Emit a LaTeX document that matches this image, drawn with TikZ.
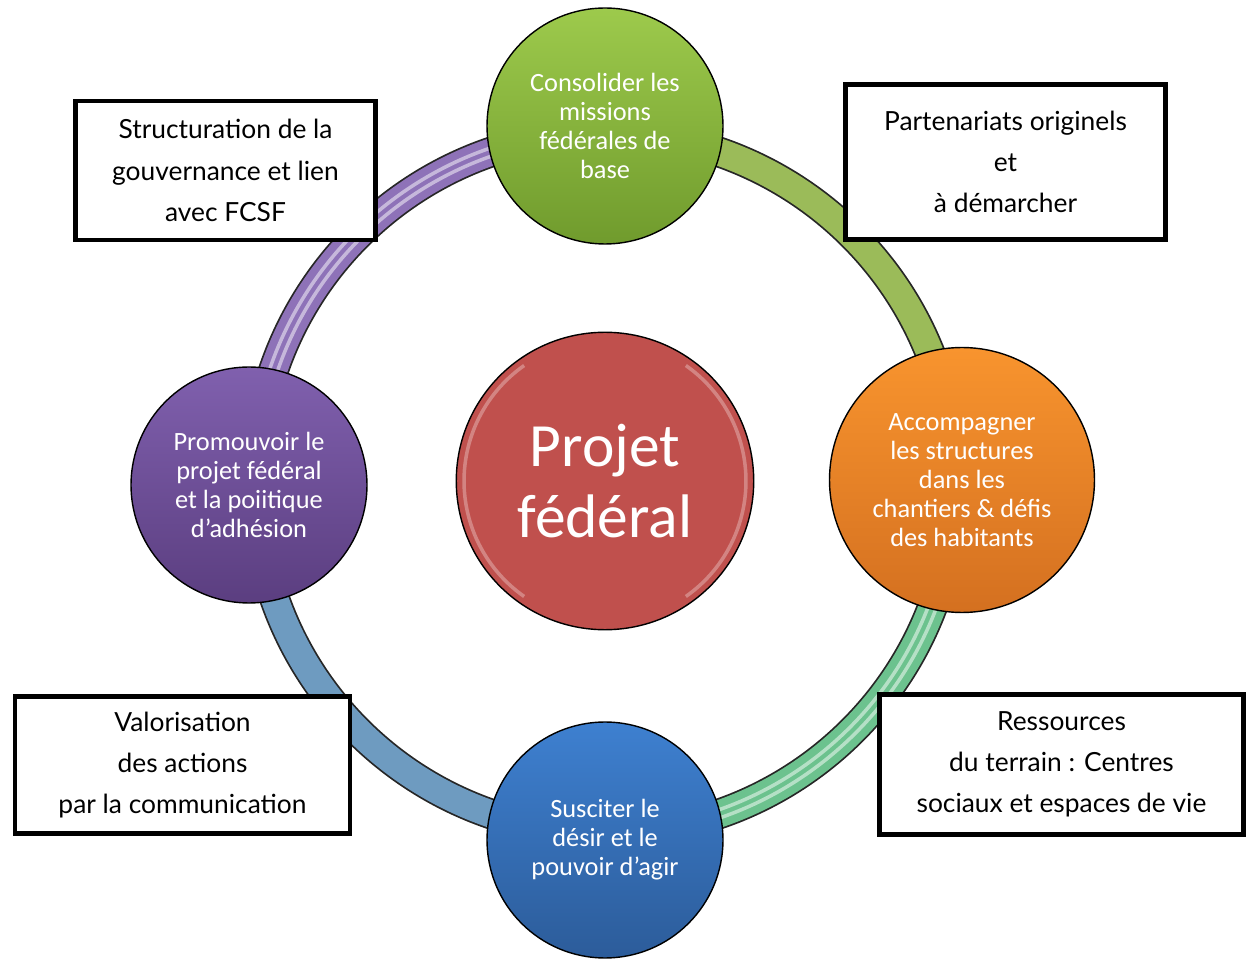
\documentclass[tikz,border=0pt]{standalone}
\usepackage{fontspec}
\setmainfont{Carlito}
\newfontfamily\handfont{Lato}
\usetikzlibrary{positioning,backgrounds}

\definecolor{ringpurple}{HTML}{8E72B8}
\definecolor{ringgreen}{HTML}{9BBB59}
\definecolor{ringsea}{HTML}{6CC28E}
\definecolor{ringblue}{HTML}{6E9BC0}
\definecolor{projred}{HTML}{C0504D}
\definecolor{greentop}{RGB}{157,202,76}
\definecolor{greenbot}{RGB}{112,155,45}
\definecolor{orangetop}{RGB}{248,148,46}
\definecolor{orangebot}{RGB}{212,112,32}
\definecolor{bluetop}{RGB}{62,128,208}
\definecolor{bluebot}{RGB}{44,92,154}
\definecolor{purpletop}{RGB}{128,96,174}
\definecolor{purplebot}{RGB}{91,62,128}

\tikzset{
  bubble/.style={circle, draw=black, line width=0.8pt, text=white, align=center,
    inner sep=0pt, minimum size=4.72cm, font=\fontsize{15}{16.5}\selectfont},
  notebox/.style={draw=black, line width=2.8pt, fill=white, align=center,
    font=\handfont\fontsize{15}{23.5}\selectfont},
  ringback/.style={line width=17.5pt, draw=black!85},
  ringband/.style={line width=15.5pt, draw=#1},
  ringshine/.style={line width=2pt, draw=white, opacity=0.5},
}

\begin{document}
\begin{tikzpicture}[x=0.02cm, y=0.02cm]
  \useasboundingbox (0,0) rectangle (1249,958);

  % circles round the ring
  \node[bubble, top color=greentop, bottom color=greenbot]
        (consolider) at (605,832) {Consolider les\\missions\\fédérales de\\base};
  \node[bubble, minimum size=5.3cm, top color=orangetop, bottom color=orangebot]
        (accompagner) at (962,478) {Accompagner\\les structures\\dans les\\chantiers \& défis\\des habitants};
  \node[bubble, top color=bluetop, bottom color=bluebot]
        (susciter) at (605,118) {Susciter le\\désir et le\\pouvoir d’agir};
  \node[bubble, top color=purpletop, bottom color=purplebot]
        (promouvoir) at (249,473) {Promouvoir le\\projet fédéral\\et la poiitique\\d'adhésion};

  % the ring, one arc per pair of circles
  \begin{scope}[on background layer]
    \draw[ringback] (consolider.center) ++(0,-7) arc[start angle=90, end angle=0, radius=7cm];
    \draw[ringband=ringgreen] (consolider.center) ++(0,-7) arc[start angle=90, end angle=0, radius=7cm];
    \draw[ringback] (accompagner.center) ++(-7,-3) arc[start angle=0, end angle=-90, radius=7cm];
    \draw[ringband=ringsea] (accompagner.center) ++(-7,-3) arc[start angle=0, end angle=-90, radius=7cm];
    \draw[ringshine] (accompagner.center) ++(-11,-3) arc[start angle=0, end angle=-90, radius=6.92cm];
    \draw[ringshine] (accompagner.center) ++(-3,-3) arc[start angle=0, end angle=-90, radius=7.08cm];
    \draw[ringback] (susciter.center) ++(0,7) arc[start angle=-90, end angle=-180, radius=7cm];
    \draw[ringband=ringblue] (susciter.center) ++(0,7) arc[start angle=-90, end angle=-180, radius=7cm];
    \draw[ringback] (promouvoir.center) ++(6,2) arc[start angle=180, end angle=90, radius=7cm];
    \draw[ringband=ringpurple] (promouvoir.center) ++(6,2) arc[start angle=180, end angle=90, radius=7cm];
    \draw[ringshine] (promouvoir.center) ++(10,2) arc[start angle=180, end angle=90, radius=6.92cm];
    \draw[ringshine] (promouvoir.center) ++(2,2) arc[start angle=180, end angle=90, radius=7.08cm];
  \end{scope}

  % centre
  \node[bubble, minimum size=5.95cm, fill=projred, font=\fontsize{35}{40}\selectfont]
        (projet) at (605,477) {Projet\\fédéral};
  \draw[white, opacity=0.3, line width=2pt] (projet.center) ++(125:2.82cm) arc[start angle=125, end angle=235, radius=2.82cm];
  \draw[white, opacity=0.3, line width=2pt] (projet.center) ++(-55:2.82cm) arc[start angle=-55, end angle=55, radius=2.82cm];

  % notes
  \node[notebox, minimum width=6.0cm, minimum height=2.78cm] (gouvernance) at (225.5,787.5)
        {Structuration de la\\gouvernance et lien\\avec FCSF};
  \node[notebox, minimum width=6.4cm, minimum height=3.1cm] (partenariats) at (1005.5,796)
        {Partenariats originels\\et\\à démarcher};
  \node[notebox, minimum width=6.7cm, minimum height=2.75cm] (valorisation) at (182.5,193)
        {Valorisation\\des actions\\par la communication};
  \node[notebox, minimum width=7.28cm, minimum height=2.8cm] (ressources) at (1061.5,193.5)
        {Ressources\\du terrain : Centres\\sociaux et espaces de vie};
\end{tikzpicture}
\end{document}
